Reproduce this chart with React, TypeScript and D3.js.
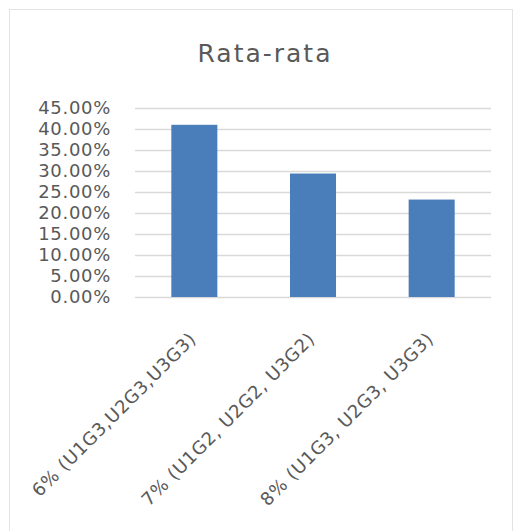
import * as d3 from "d3";

// values
const categories = ["6% (U1G3,U2G3,U3G3)", "7% (U1G2, U2G2, U3G2)", "8% (U1G3, U2G3, U3G3)"];
const averages = [0.41, 0.294, 0.232];
const yTicks = [0, 0.05, 0.1, 0.15, 0.2, 0.25, 0.3, 0.35, 0.4, 0.45];
const title = "Rata-rata";

const width = 515;
const height = 531;
const plot = { left: 135, right: 491, top: 108, bottom: 297 };
const textColor = "#595959";
const font = "'DejaVu Sans', sans-serif";

export default function App() {
  const x = d3
    .scaleBand<string>()
    .domain(categories)
    .range([plot.left, plot.right])
    .paddingInner(0.612)
    .paddingOuter(0.306);
  const y = d3.scaleLinear().domain([0, 0.45]).range([plot.bottom, plot.top]);
  const fmt = d3.format(".2%");

  return (
    <svg
      width={width}
      height={height}
      style={{ position: "absolute", left: 0, top: 0, background: "#fff" }}
    >
      <rect x={9.5} y={9.5} width={503} height={540} fill="#fff" stroke="#e3e3e3" />

      <text
        x={265}
        y={62}
        textAnchor="middle"
        fontFamily={font}
        fontSize={25}
        letterSpacing={2}
        fill={textColor}
      >
        {title}
      </text>

      {/* gridlines + y labels */}
      {yTicks.map((t) => (
        <g key={t}>
          <line
            x1={plot.left}
            x2={plot.right}
            y1={Math.round(y(t)) + 0.5}
            y2={Math.round(y(t)) + 0.5}
            stroke="#d9d9d9"
            strokeWidth={1.5}
          />
          <text
            x={111}
            y={y(t)}
            dy="0.36em"
            textAnchor="end"
            fontFamily={font}
            fontSize={18}
            letterSpacing={0.7}
            fill={textColor}
          >
            {fmt(t)}
          </text>
        </g>
      ))}

      {/* bars */}
      {categories.map((c, i) => (
        <rect
          key={c}
          x={x(c)}
          y={y(averages[i])}
          width={x.bandwidth()}
          height={y(0) - y(averages[i])}
          fill="#4a7ebb"
        />
      ))}

      {/* rotated category labels */}
      {categories.map((c) => {
        const cx = (x(c) ?? 0) + x.bandwidth() / 2 + 3;
        const cy = 340;
        return (
          <text
            key={c}
            transform={`translate(${cx},${cy}) rotate(-45)`}
            textAnchor="end"
            fontFamily={font}
            fontSize={18}
            letterSpacing={0.7}
            fill={textColor}
          >
            {c}
          </text>
        );
      })}
    </svg>
  );
}
